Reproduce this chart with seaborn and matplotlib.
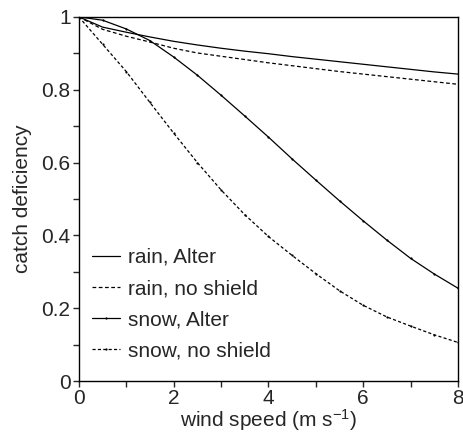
import numpy as np
import pandas as pd
import seaborn as sns
import matplotlib.pyplot as plt
from matplotlib.ticker import MultipleLocator, FuncFormatter

wind = [0, 0.5, 1, 1.5, 2, 2.5, 3, 3.5, 4, 4.5, 5, 5.5, 6, 6.5, 7, 7.5, 8]
rain_alter = [1.000, 0.972, 0.958, 0.945, 0.933, 0.923, 0.914, 0.906, 0.899,
              0.891, 0.884, 0.877, 0.870, 0.863, 0.856, 0.849, 0.843]
rain_noshield = [1.000, 0.966, 0.947, 0.931, 0.914, 0.901, 0.892, 0.883, 0.874,
                 0.866, 0.858, 0.850, 0.843, 0.836, 0.829, 0.822, 0.815]
snow_alter = [1.000, 0.991, 0.967, 0.935, 0.890, 0.840, 0.785, 0.728, 0.670,
              0.610, 0.552, 0.495, 0.440, 0.387, 0.337, 0.294, 0.255]
snow_noshield = [1.000, 0.925, 0.850, 0.765, 0.681, 0.600, 0.525, 0.457, 0.397,
                 0.345, 0.295, 0.248, 0.208, 0.176, 0.151, 0.127, 0.106]

labels = ["rain, Alter", "rain, no shield", "snow, Alter", "snow, no shield"]
series = [rain_alter, rain_noshield, snow_alter, snow_noshield]
styles = [
    dict(linestyle="-", marker=None),
    dict(linestyle=(0, (3, 2)), marker=None),
    dict(linestyle="-", marker="o", markersize=1.6),
    dict(linestyle=(0, (2.5, 1.8)), marker="o", markersize=1.6),
]

sns.set_style("ticks")
plt.rcParams["font.family"] = ["Liberation Sans", "DejaVu Sans"]
plt.rcParams["mathtext.default"] = "regular"

fig = plt.figure(figsize=(4.64, 4.34), dpi=100)
ax = fig.add_axes([0.170, 0.122, 0.817, 0.839])

for lab, vals, st in zip(labels, series, styles):
    sns.lineplot(x=wind, y=vals, ax=ax, color="black", linewidth=0.9,
                 label=lab, markeredgewidth=0, **st)

ax.set_xlim(0, 8)
ax.set_ylim(0, 1)
ax.xaxis.set_major_locator(MultipleLocator(2))
ax.xaxis.set_minor_locator(MultipleLocator(1))
ax.yaxis.set_major_locator(MultipleLocator(0.2))
ax.yaxis.set_minor_locator(MultipleLocator(0.1))
ax.yaxis.set_major_formatter(FuncFormatter(lambda v, p: "%g" % round(v, 2)))
ax.tick_params(which="major", direction="out", length=4, width=1, labelsize=15, pad=2)
ax.tick_params(which="minor", direction="out", length=4, width=1)
for sp in ax.spines.values():
    sp.set_visible(True)
    sp.set_linewidth(1)
    sp.set_color("black")

ax.set_xlabel("wind speed (m s$^{-1}$)", fontsize=15, labelpad=-1)
ax.set_ylabel("catch deficiency", fontsize=15, labelpad=7)

ax.legend(loc="lower left", bbox_to_anchor=(0.0, 0.02), frameon=False,
          fontsize=15, handlelength=1.3, handletextpad=0.4,
          labelspacing=0.58, borderaxespad=0.25)

fig.savefig("out.png", dpi=100)
